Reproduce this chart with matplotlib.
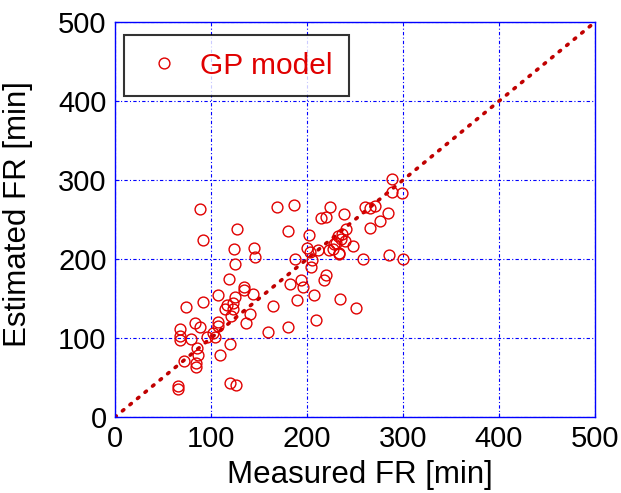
import matplotlib
matplotlib.use("Agg")
import matplotlib.pyplot as plt
import numpy as np

plt.rcParams['font.family'] = ['Liberation Sans', 'DejaVu Sans']

measured = [89, 92, 127, 124, 125, 119, 145, 146, 169, 187, 180, 202, 224, 239, 215, 220,
            200, 203, 212, 223, 205, 188, 204, 194, 182, 196, 220, 218, 190, 207, 234, 251,
            209, 165, 159, 180, 233, 228, 232, 237, 241, 248, 258, 266, 276, 261, 266, 271,
            284, 289, 289, 299, 285, 300, 107, 92, 74, 83, 89, 68, 68, 68, 79, 86, 87, 72,
            84, 84, 66, 66, 120, 126, 110, 120, 96, 102, 104, 107, 107, 117, 115, 121, 123,
            125, 123, 134, 135, 144, 141, 137, 236, 240, 230, 227, 233]
estimated = [264, 224, 238, 213, 194, 175, 214, 203, 266, 269, 235, 230, 266, 257, 252, 253,
             214, 209, 211, 211, 199, 200, 190, 174, 168, 165, 180, 173, 148, 155, 150, 138,
             123, 141, 108, 114, 207, 219, 229, 232, 238, 216, 200, 240, 248, 266, 265, 267,
             259, 301, 285, 284, 205, 200, 155, 146, 139, 119, 114, 111, 103, 98, 99, 88, 78, 71,
             69, 63, 39, 36, 43, 40, 79, 93, 101, 107, 101, 121, 115, 142, 137, 128, 137,
             152, 145, 165, 161, 156, 131, 119, 226, 223, 221, 213, 208]
ideal = [0, 500]
ticks = [0, 100, 200, 300, 400, 500]

fig = plt.figure(figsize=(6.21, 4.93), dpi=100)
ax = fig.add_axes([0.185, 0.154, 0.773, 0.801])

ax.plot(ideal, ideal, linestyle=(0, (0.5, 2.2)), color='#c00000', linewidth=2.6,
        dash_capstyle='round', zorder=2)
ax.plot(measured, estimated, linestyle='none', marker='o', markersize=7.8,
        markerfacecolor='none', markeredgecolor='#e00000', markeredgewidth=1.0,
        label='GP model', zorder=3)

ax.set_xlim(0, 500)
ax.set_ylim(0, 500)
ax.set_xticks(ticks)
ax.set_yticks(ticks)
ax.grid(True, color='#0000ff', linestyle=(0, (3, 2, 1, 2)), linewidth=0.8)
for s in ax.spines.values():
    s.set_color('#0000ff')
    s.set_linewidth(1.0)
ax.tick_params(direction='in', length=3, color='#0000ff', labelsize=21, pad=6)
ax.set_xlabel('Measured FR [min]', fontsize=22.5)
ax.set_ylabel('Estimated FR [min]', fontsize=22.5)
ax.xaxis.set_label_coords(0.51, -0.108)
ax.yaxis.set_label_coords(-0.171, 0.515)

leg = ax.legend(loc='upper left', fontsize=21.5, frameon=True, fancybox=False,
                borderpad=0.55, handletextpad=0.4, borderaxespad=0.3, handlelength=1.6,
                bbox_to_anchor=(0.0, 0.99))
leg.get_frame().set_edgecolor('black')
leg.get_frame().set_linewidth(1.5)
for t in leg.get_texts():
    t.set_color('#e00000')

fig.savefig('out.png', dpi=100)
